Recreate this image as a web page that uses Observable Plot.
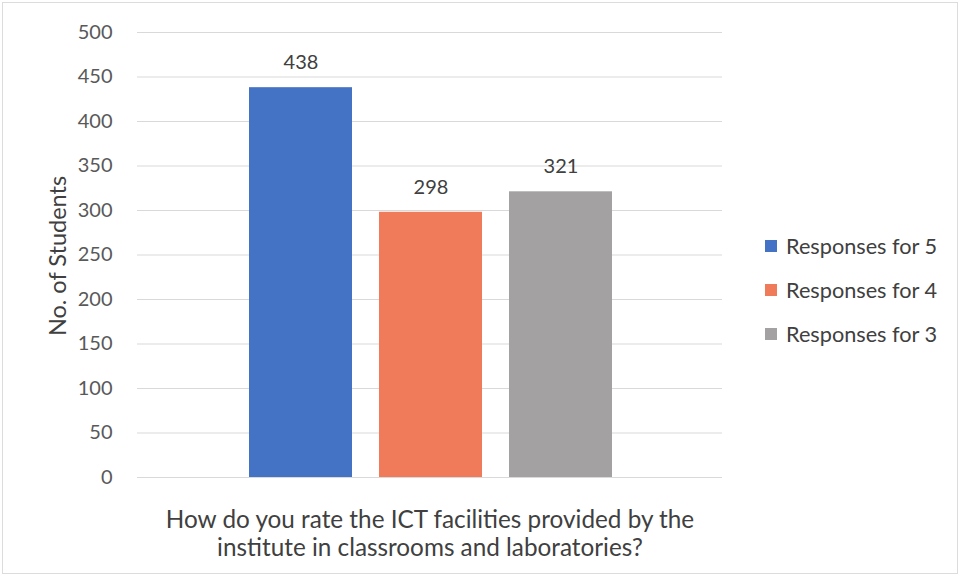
<!DOCTYPE html>
<html>
<head>
<meta charset="utf-8">
<script src="https://cdn.jsdelivr.net/npm/d3@7"></script>
<script src="https://cdn.jsdelivr.net/npm/@observablehq/plot@0.6"></script>
<style>
  html, body { margin: 0; padding: 0; background: #fff; }
  #wrap { position: relative; width: 962px; height: 578px; font-family: Lato, "Open Sans", sans-serif; overflow: hidden; }
  #frame { position: absolute; left: 2px; top: 2px; width: 956px; height: 572px; border: 1px solid #dcdcdc; box-sizing: border-box; pointer-events: none; }
  #chart { position: absolute; left: 0; top: 0; }
  #legend { position: absolute; left: 765px; top: 224px; }
  .item { display: flex; align-items: center; height: 44px; font-size: 21.7px; color: #404040; }
  .sw { width: 12px; height: 12px; margin-right: 9px; }
  #caption { position: absolute; left: 80px; width: 700px; top: 505px; text-align: center; font-size: 24.3px; line-height: 28px; color: #404040; white-space: nowrap; }
  #ylab { position: absolute; left: 57px; top: 256px; transform: translate(-50%, -50%) rotate(-90deg); font-size: 23.5px; color: #404040; white-space: nowrap; }
</style>
</head>
<body>
<div id="wrap">
  <div id="chart"></div>
  <div id="ylab">No. of Students</div>
  <div id="legend"></div>
  <div id="caption">How do you rate the ICT facilities provided by the<br>institute in classrooms and laboratories?</div>
  <div id="frame"></div>
</div>
<script>
const series = ["Responses for 5", "Responses for 4", "Responses for 3"];
const values = [438, 298, 321];
const colors = ["#4472C4", "#EF7B5B", "#A4A1A2"];
const yTicks = [0, 50, 100, 150, 200, 250, 300, 350, 400, 450, 500];

const data = series.map((s, i) => ({series: s, value: values[i]}));

const chart = Plot.plot({
  width: 962,
  height: 578,
  marginLeft: 137,
  marginRight: 240,
  marginTop: 32,
  marginBottom: 101,
  style: {fontFamily: "Lato, 'Open Sans', sans-serif", background: "transparent"},
  x: {domain: series, range: [235.5, 625.5], paddingInner: 27/130, paddingOuter: 13.5/130, axis: null},
  y: {domain: [0, 500], ticks: yTicks},
  color: {domain: series, range: colors},
  marks: [
    Plot.ruleY(yTicks, {stroke: "#d9d9d9", strokeWidth: 1}),
    Plot.axisY({ticks: yTicks, tickSize: 0, tickPadding: 25, fontSize: 20, fill: "#595959", label: null}),
    Plot.barY(data, {x: "series", y: "value", fill: "series"}),
    Plot.text(data, {x: "series", y: "value", text: d => String(d.value), dy: -25, fontSize: 20, fill: "#404040"})
  ]
});
document.getElementById("chart").appendChild(chart);

const legend = document.getElementById("legend");
series.forEach((s, i) => {
  const item = document.createElement("div");
  item.className = "item";
  const sw = document.createElement("div");
  sw.className = "sw";
  sw.style.background = colors[i];
  const t = document.createElement("span");
  t.textContent = s;
  item.appendChild(sw);
  item.appendChild(t);
  legend.appendChild(item);
});
</script>
</body>
</html>
